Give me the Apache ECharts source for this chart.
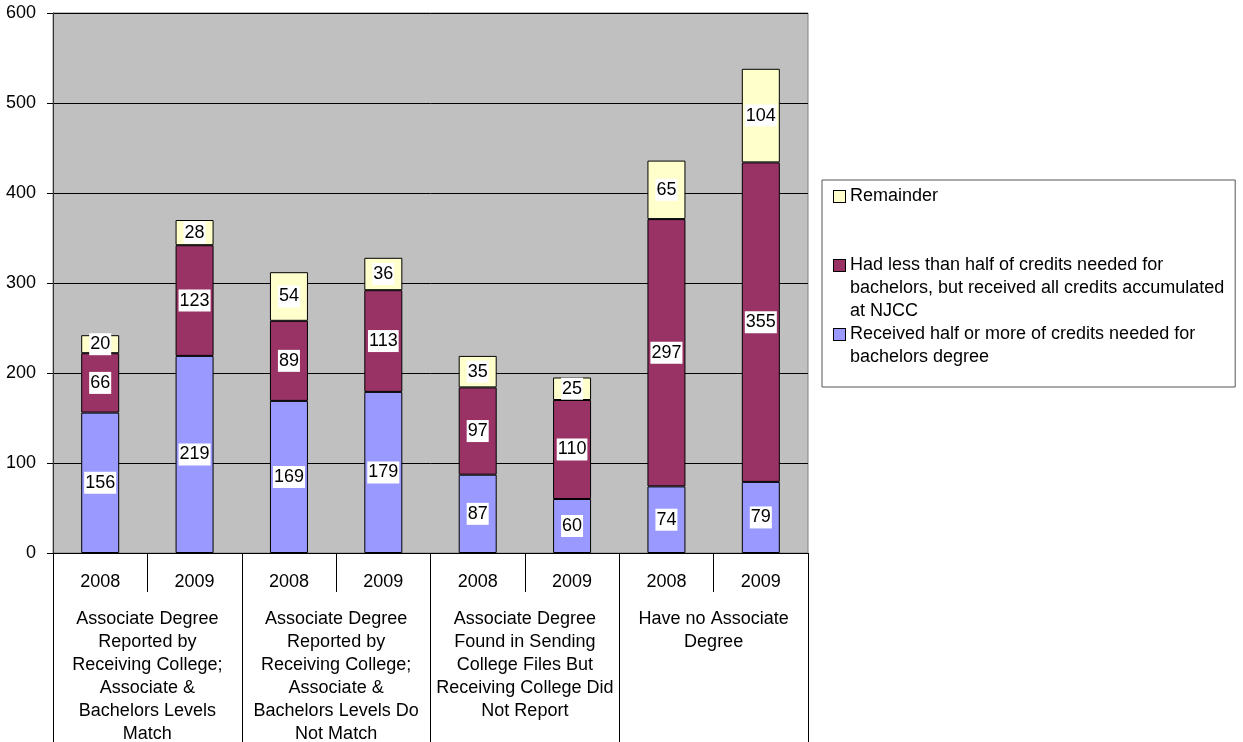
<!DOCTYPE html>
<html>
<head>
<meta charset="utf-8">
<script src="https://cdn.jsdelivr.net/npm/echarts@6/dist/echarts.min.js"></script>
<style>
html,body{margin:0;padding:0;background:#fff;}
#chart{width:1243px;height:742px;}
</style>
</head>
<body>
<div id="chart"></div>
<script>
// ---- data ----
var years = ['2008', '2009', '2008', '2009', '2008', '2009', '2008', '2009'];
var groups = [
  'Associate Degree\nReported by\nReceiving College;\nAssociate &\nBachelors Levels\nMatch',
  'Associate Degree\nReported by\nReceiving College;\nAssociate &\nBachelors Levels Do\nNot Match',
  'Associate Degree\nFound in Sending\nCollege Files But\nReceiving College Did\nNot Report',
  'Have no Associate\nDegree'
];
var seriesNames = [
  'Received half or more of credits needed for bachelors degree',
  'Had less than half of credits needed for bachelors, but received all credits accumulated at NJCC',
  'Remainder'
];
var receivedHalf = [156, 219, 169, 179, 87, 60, 74, 79];
var hadLess = [66, 123, 89, 113, 97, 110, 297, 355];
var remainder = [20, 28, 54, 36, 35, 25, 65, 104];
var legendLines = {};
legendLines[seriesNames[2]] = ['Remainder', ' ', ' '];
legendLines[seriesNames[1]] = ['Had less than half of credits needed for', 'bachelors, but received all credits accumulated', 'at NJCC'];
legendLines[seriesNames[0]] = ['Received half or more of credits needed for', 'bachelors degree'];
var yTicks = {min: 0, max: 600, interval: 100};

// ---- styles ----
var colors = ['#9999FF', '#993366', '#FFFFCC'];
var sqKey = {};
sqKey[seriesNames[0]] = 'sqB';
sqKey[seriesNames[1]] = 'sqM';
sqKey[seriesNames[2]] = 'sqY';
var FONT = '"Liberation Sans", Arial, sans-serif';

function sq(c) {
  return {width: 11, height: 11, backgroundColor: c, borderColor: '#000', borderWidth: 1};
}

var chart = echarts.init(document.getElementById('chart'), null, {renderer: 'canvas'});

var labelStyle = {
  show: true,
  position: 'inside',
  color: '#000',
  fontFamily: FONT,
  fontSize: 18,
  lineHeight: 21,
  backgroundColor: '#fff',
  padding: [1, 1, 0, 1]
};

var seriesData = [receivedHalf, hadLess, remainder];
var series = seriesData.map(function (d, i) {
  return {
    name: seriesNames[i],
    type: 'bar',
    stack: 'total',
    xAxisIndex: 0,
    barWidth: 38,
    data: d,
    itemStyle: {color: colors[i], borderColor: '#000', borderWidth: 1},
    label: labelStyle,
    emphasis: {disabled: true}
  };
});

chart.setOption({
  animation: false,
  textStyle: {fontFamily: FONT},
  grid: {
    left: 53, right: 435, top: 13, bottom: 189,
    show: true, backgroundColor: '#C0C0C0', borderColor: '#808080', borderWidth: 1,
    outerBoundsMode: 'none', containLabel: false
  },
  legend: {
    data: [seriesNames[2], seriesNames[1], seriesNames[0]],
    orient: 'vertical',
    left: 822, top: 180,
    icon: 'none',
    itemWidth: 0,
    itemHeight: 10,
    itemGap: 0,
    padding: [5, 11, 18, 7],
    backgroundColor: '#fff',
    borderColor: '#555',
    borderWidth: 1,
    selectedMode: false,
    formatter: function (name) {
      var lines = legendLines[name];
      var out = '{' + sqKey[name] + '|}{g|}{t|' + lines[0] + '}';
      for (var k = 1; k < lines.length; k++) {
        out += '\n{ind|}{t|' + lines[k] + '}';
      }
      return out;
    },
    textStyle: {
      fontFamily: FONT, fontSize: 18, color: '#000', lineHeight: 23, padding: 0,
      rich: {
        t: {fontFamily: FONT, fontSize: 18, color: '#000', lineHeight: 23},
        g: {width: 5},
        ind: {width: 16},
        sqB: sq(colors[0]),
        sqM: sq(colors[1]),
        sqY: sq(colors[2])
      }
    }
  },
  xAxis: [
    {
      type: 'category',
      data: years,
      position: 'bottom',
      axisLine: {show: true, lineStyle: {color: '#000', width: 1}},
      axisTick: {show: true, interval: 0, length: 39, lineStyle: {color: '#000', width: 1}},
      axisLabel: {interval: 0, margin: 18, fontFamily: FONT, fontSize: 18, lineHeight: 22, color: '#000'},
      splitLine: {show: false}
    },
    {
      type: 'category',
      data: groups,
      position: 'bottom',
      axisLine: {show: false},
      axisTick: {show: true, interval: 0, length: 191, lineStyle: {color: '#000', width: 1}},
      axisLabel: {interval: 0, margin: 55, fontFamily: FONT, fontSize: 18, lineHeight: 23, color: '#000', align: 'center'},
      splitLine: {show: false}
    }
  ],
  yAxis: {
    type: 'value',
    min: yTicks.min, max: yTicks.max, interval: yTicks.interval,
    axisLine: {show: true, lineStyle: {color: '#333', width: 1}},
    axisTick: {show: true, length: 6, lineStyle: {color: '#000'}},
    axisLabel: {margin: 17, fontFamily: FONT, fontSize: 18, color: '#000'},
    splitLine: {show: true, lineStyle: {color: '#000', width: 1}}
  },
  series: series
});
</script>
</body>
</html>
